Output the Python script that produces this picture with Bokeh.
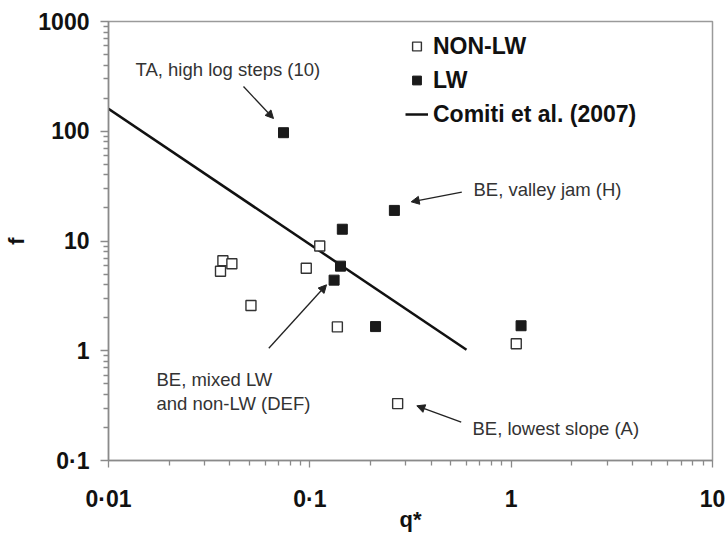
from bokeh.plotting import figure
from bokeh.models import (Range1d, FixedTicker, CustomJSTickFormatter, Legend, LegendItem,
                          Label, Arrow, NormalHead)
from bokeh.embed import file_html
from bokeh.resources import INLINE

# ---- data ----
nonlw_q = [0.112, 0.037, 0.041, 0.036, 0.096, 0.051, 0.137, 1.06, 0.273]
nonlw_f = [9.0, 6.6, 6.2, 5.3, 5.65, 2.58, 1.65, 1.16, 0.33]
lw_q = [0.074, 0.263, 0.145, 0.142, 0.132, 0.212, 1.12]
lw_f = [97.0, 19.0, 12.8, 5.9, 4.4, 1.66, 1.69]
comiti_q = [0.01, 0.6]
comiti_f = [160.0, 1.02]

x_ticks = [0.01, 0.1, 1, 10]
x_tick_labels = ["0·01", "0·1", "1", "10"]
y_ticks = [0.1, 1, 10, 100, 1000]
y_tick_labels = ["0·1", "1", "10", "100", "1000"]

FONT = "Liberation Sans"

p = figure(width=726, height=534, x_axis_type="log", y_axis_type="log",
           x_range=Range1d(0.01, 10), y_range=Range1d(0.1, 1000),
           output_backend="svg", toolbar_location=None,
           min_border_left=108, min_border_right=14, min_border_top=21, min_border_bottom=73)
p.grid.visible = False
p.outline_line_color = "#9a9a9a"
p.outline_line_width = 1.5
p.background_fill_color = "white"
p.border_fill_color = "white"

x_minor = [m * 10.0 ** k for k in range(-2, 1) for m in range(2, 10)]
y_minor = [m * 10.0 ** k for k in range(-1, 3) for m in range(2, 10)]
p.xaxis.ticker = FixedTicker(ticks=x_ticks, minor_ticks=x_minor)
p.yaxis.ticker = FixedTicker(ticks=y_ticks, minor_ticks=y_minor)

fmt_code = """
const i = tvals.findIndex(t => Math.abs(Math.log10(t) - Math.log10(tick)) < 1e-6);
return i >= 0 ? tlabs[i] : "";
"""
p.xaxis.formatter = CustomJSTickFormatter(args=dict(tvals=x_ticks, tlabs=x_tick_labels), code=fmt_code)
p.yaxis.formatter = CustomJSTickFormatter(args=dict(tvals=y_ticks, tlabs=y_tick_labels), code=fmt_code)

for ax in (p.xaxis[0], p.yaxis[0]):
    ax.axis_line_color = "#8a8a8a"
    ax.axis_line_width = 1.5
    ax.major_tick_line_color = "#8a8a8a"
    ax.minor_tick_line_color = "#8a8a8a"
    ax.major_tick_line_width = 1.3
    ax.minor_tick_line_width = 1.3
    ax.major_tick_in = 0
    ax.minor_tick_in = 0
    ax.major_label_text_font = FONT
    ax.major_label_text_font_style = "bold"
    ax.major_label_text_color = "#111111"
    ax.axis_label_text_font = FONT
    ax.axis_label_text_font_style = "bold"
    ax.axis_label_text_color = "#111111"
    ax.axis_label_text_font_size = "22px"

p.xaxis.major_tick_out = 7
p.xaxis.minor_tick_out = 5
p.yaxis.major_tick_out = 8
p.yaxis.minor_tick_out = 5
p.xaxis.major_label_text_font_size = "23px"
p.yaxis.major_label_text_font_size = "23px"
p.xaxis.major_label_standoff = 18
p.yaxis.major_label_standoff = 11
p.xaxis.axis_label = "q*"
p.yaxis.axis_label = "f"
p.xaxis.axis_label_standoff = -8
p.yaxis.axis_label_standoff = 6

r_line = p.line(comiti_q, comiti_f, line_color="#111111", line_width=2.5)
r_open = p.scatter(nonlw_q, nonlw_f, marker="square", size=10, fill_color="white",
                   line_color="#333333", line_width=1.4)
r_fill = p.scatter(lw_q, lw_f, marker="square", size=10, fill_color="#1a1a1a",
                   line_color="#1a1a1a", line_width=1)

legend = Legend(items=[LegendItem(label="NON-LW", renderers=[r_open]),
                       LegendItem(label="LW", renderers=[r_fill]),
                       LegendItem(label="Comiti et al. (2007)", renderers=[r_line])],
                location=(297, 332), padding=0, margin=0, spacing=6,
                glyph_width=23, glyph_height=22, label_height=28, label_standoff=5,
                border_line_color=None, background_fill_alpha=0,
                label_text_font=FONT, label_text_font_style="bold",
                label_text_font_size="23px", label_text_color="#111111")
p.add_layout(legend)

# ---- annotations (frame screen units: x from left, y up from bottom) ----
def add_label(x, y, text):
    p.add_layout(Label(x=x, y=y, x_units="screen", y_units="screen", text=text,
                       text_font=FONT, text_font_size="18.5px", text_color="#333333",
                       text_align="left", text_baseline="middle"))

def add_arrow(x0, y0, x1, y1):
    p.add_layout(Arrow(x_start=x0, y_start=y0, x_end=x1, y_end=y1,
                       start_units="screen", end_units="screen",
                       line_color="#222222", line_width=1.3,
                       end=NormalHead(size=8, fill_color="#222222", line_color="#222222")))

add_label(27, 390.7, "TA, high log steps (10)")
add_arrow(135, 374, 165, 342)
add_label(365, 270.7, "BE, valley jam (H)")
add_arrow(353.3, 268.3, 302.7, 258.7)
add_label(48, 80.7, "BE, mixed LW")
add_label(48, 57.3, "and non-LW (DEF)")
add_arrow(160.3, 112.3, 218, 175.7)
add_label(364, 31.7, "BE, lowest slope (A)")
add_arrow(352.7, 38.3, 308.3, 54.7)

open("out.html", "w").write(file_html(p, INLINE))
